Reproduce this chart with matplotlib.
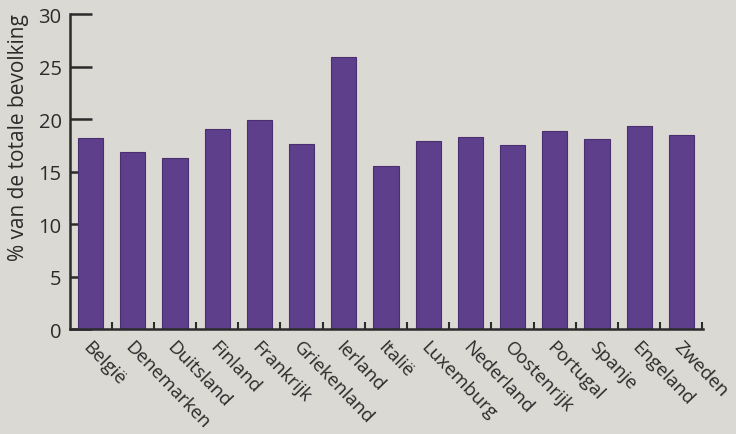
import matplotlib
matplotlib.use("Agg")
import matplotlib.pyplot as plt

countries = ["België", "Denemarken", "Duitsland", "Finland", "Frankrijk", "Griekenland",
             "Ierland", "Italië", "Luxemburg", "Nederland", "Oostenrijk", "Portugal",
             "Spanje", "Engeland", "Zweden"]
values = [18.2, 16.9, 16.3, 19.1, 19.9, 17.6, 25.9, 15.5, 17.9, 18.3, 17.5, 18.9, 18.1, 19.4, 18.5]
yticks = [0, 5, 10, 15, 20, 25, 30]
ylabel = "% van de totale bevolking"

bg = "#dbd9d4"
bar_color = "#5e3f8c"
ink = "#2b2b2b"

plt.rcParams['font.family'] = ['Open Sans', 'DejaVu Sans']

fig = plt.figure(figsize=(7.36, 4.35), dpi=100, facecolor=bg)
ax = fig.add_axes([0.095, 0.241, 0.86, 0.724], facecolor=bg)

x = list(range(len(countries)))
ax.bar(x, values, width=0.6, color=bar_color, edgecolor="#4a2f70", linewidth=0.8, zorder=2)

ax.set_ylim(0, 30)
ax.set_xlim(-0.49, len(countries) - 0.49)
ax.set_yticks(yticks)
ax.set_yticklabels([str(t) for t in yticks], fontsize=14.5, color=ink)
ax.tick_params(axis='y', direction='in', length=16, width=1.8, color=ink, pad=6)

sep = [i + 0.5 for i in range(len(countries) - 1)] + [len(countries) - 0.5]
ax.set_xticks(sep)
ax.set_xticklabels([])
ax.tick_params(axis='x', direction='in', length=5, width=1.5, color=ink)

for s in ['top', 'right']:
    ax.spines[s].set_visible(False)
for s in ['left', 'bottom']:
    ax.spines[s].set_linewidth(1.8)
    ax.spines[s].set_color(ink)

for i, name in enumerate(countries):
    ax.text(i + 0.04, -0.8, name, rotation=-46, ha='left', va='top',
            rotation_mode='anchor', fontsize=13.5, color=ink)

ax.set_ylabel(ylabel, fontsize=15, color=ink)
ax.yaxis.set_label_coords(-0.064, 0.61)

fig.savefig("out.png", dpi=100, facecolor=bg)
